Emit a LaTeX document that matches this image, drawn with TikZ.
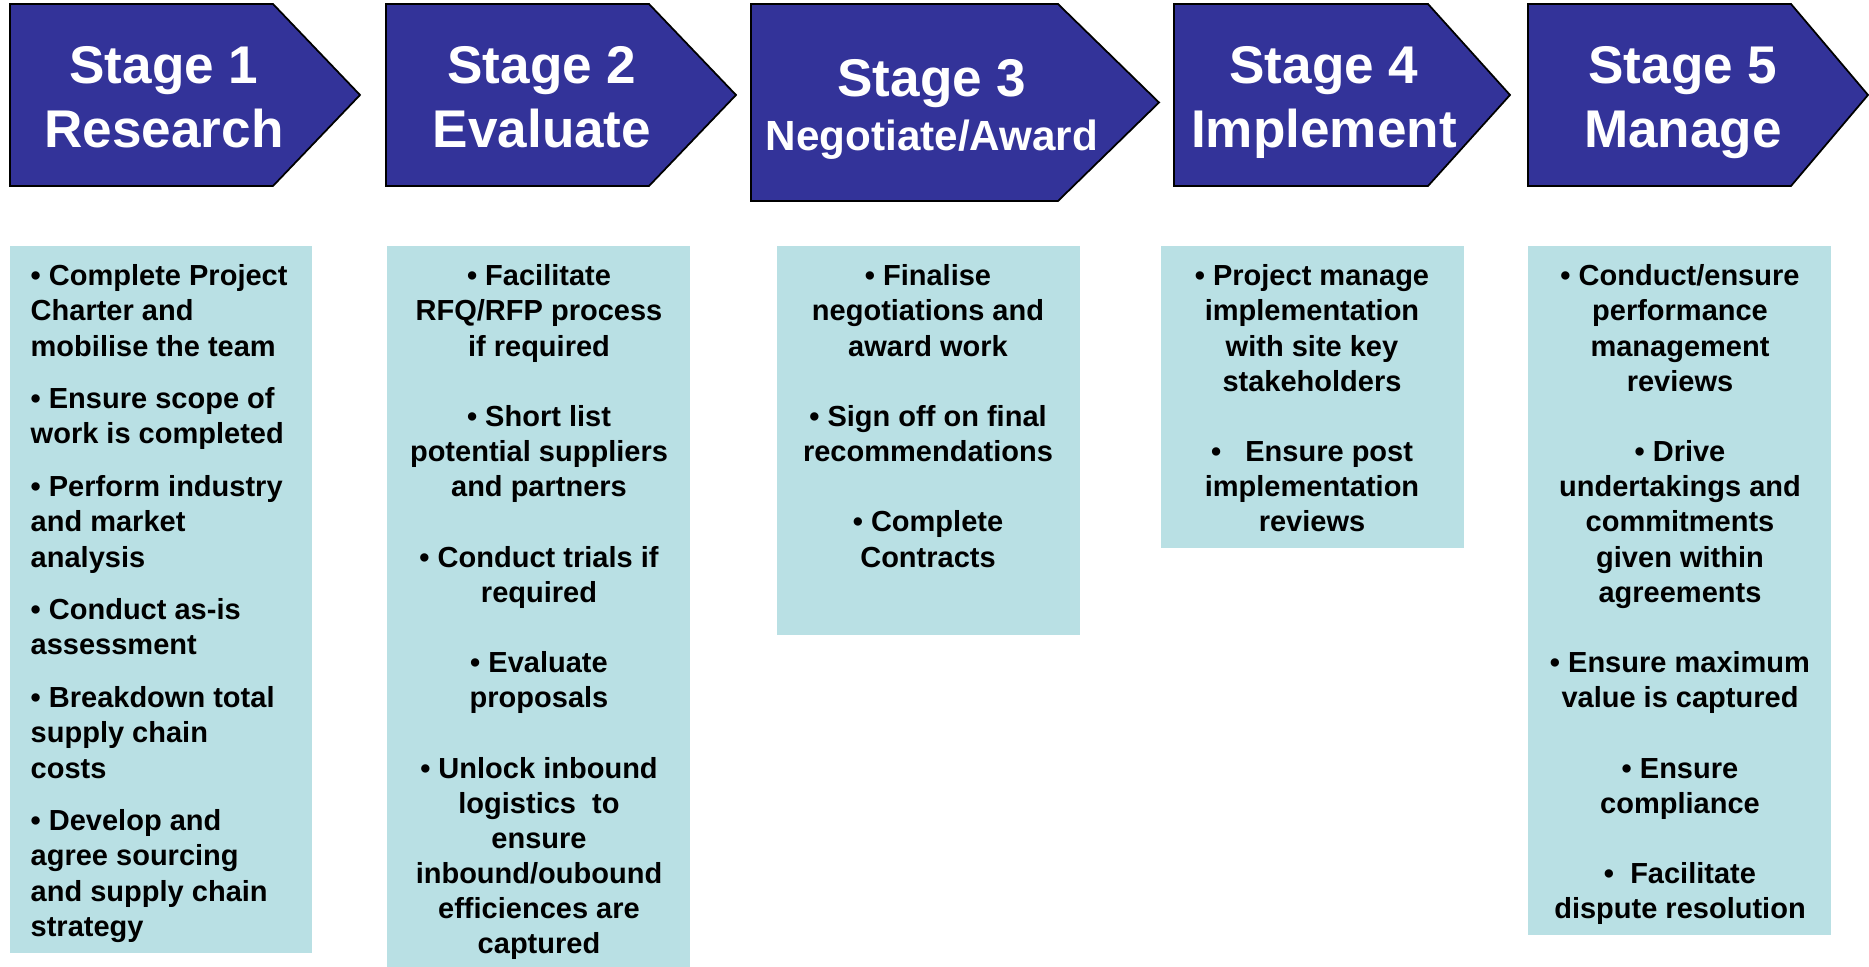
\documentclass[tikz,border=0pt]{standalone}
\usepackage{fontspec}
\setmainfont{Liberation Sans}

\begin{document}
\begin{tikzpicture}[x=0.01cm, y=-0.01cm,
    stagearrow/.style={fill=stageblue, draw=black, line width=0.5pt, line join=miter},
    stagetitle/.style={anchor=base, inner sep=0pt, text=white, font=\fontsize{15.1}{18}\selectfont\bfseries},
    stagesmall/.style={stagetitle, font=\fontsize{12}{14}\selectfont\bfseries},
    infobox/.style={fill=boxcyan},
    infotext/.style={anchor=north, inner sep=0pt, align=center, font=\fontsize{8.25}{10}\selectfont\bfseries}]
    % Colours
    \definecolor{stageblue}{RGB}{51,51,153}
    \definecolor{boxcyan}{RGB}{185,224,228}

    \useasboundingbox (0,0) rectangle (1869,967);

    % Stage 1
    \draw[stagearrow] (10,4) -- (273,4) -- (360,95) -- (273,186) -- (10,186) -- cycle;
    \node[stagetitle] (stage1) at (164,84) {Stage 1};
    \node[stagetitle] (name1) at (164,148) {Research};

    % Stage 2
    \draw[stagearrow] (386,4) -- (649,4) -- (736,95) -- (649,186) -- (386,186) -- cycle;
    \node[stagetitle] (stage2) at (542,84) {Stage 2};
    \node[stagetitle] (name2) at (542,148) {Evaluate};

    % Stage 3
    \draw[stagearrow] (751,4) -- (1058,4) -- (1159,102.5) -- (1058,201) -- (751,201) -- cycle;
    \node[stagetitle] (stage3) at (932,97) {Stage 3};
    \node[stagesmall] (name3) at (932,151) {Negotiate/Award};

    % Stage 4
    \draw[stagearrow] (1174,4) -- (1428,4) -- (1510,95) -- (1428,186) -- (1174,186) -- cycle;
    \node[stagetitle] (stage4) at (1324,84) {Stage 4};
    \node[stagetitle] (name4) at (1324,148) {Implement};

    % Stage 5
    \draw[stagearrow] (1528,4) -- (1791,4) -- (1868,95) -- (1791,186) -- (1528,186) -- cycle;
    \node[stagetitle] (stage5) at (1683,84) {Stage 5};
    \node[stagetitle] (name5) at (1683,148) {Manage};

    % Task boxes
    \fill[infobox] (10,246) rectangle (312,953);
    \fill[infobox] (387,246) rectangle (690,967);
    \fill[infobox] (777,246) rectangle (1080,635);
    \fill[infobox] (1161,246) rectangle (1464,548);
    \fill[infobox] (1528,246) rectangle (1831,935);

    % Research tasks
    \node[infotext, anchor=north west, align=left] (tasks1) at (30,264) {
        • Complete Project\\
        Charter and\\
        mobilise the team\\[5pt]
        • Ensure scope of\\
        work is completed\\[5pt]
        • Perform industry\\
        and market\\
        analysis\\[5pt]
        • Conduct as-is\\
        assessment\\[5pt]
        • Breakdown total\\
        supply chain\\
        costs\\[5pt]
        • Develop and\\
        agree sourcing\\
        and supply chain\\
        strategy
    };

    % Evaluate tasks
    \node[infotext] (tasks2) at (539,264) {
        • Facilitate\\
        RFQ/RFP process\\
        if required\\[10pt]
        • Short list\\
        potential suppliers\\
        and partners\\[10pt]
        • Conduct trials if\\
        required\\[10pt]
        • Evaluate\\
        proposals\\[10pt]
        • Unlock inbound\\
        logistics\ \ to\\
        ensure\\
        inbound/oubound\\
        efficiences are\\
        captured
    };

    % Negotiate/Award tasks
    \node[infotext] (tasks3) at (928,264) {
        • Finalise\\
        negotiations and\\
        award work\\[10pt]
        • Sign off on final\\
        recommendations\\[10pt]
        • Complete\\
        Contracts
    };

    % Implement tasks
    \node[infotext] (tasks4) at (1312,264) {
        • Project manage\\
        implementation\\
        with site key\\
        stakeholders\\[10pt]
        •\ \ \ Ensure post\\
        implementation\\
        reviews
    };

    % Manage tasks
    \node[infotext] (tasks5) at (1680,264) {
        • Conduct/ensure\\
        performance\\
        management\\
        reviews\\[10pt]
        • Drive\\
        undertakings and\\
        commitments\\
        given within\\
        agreements\\[10pt]
        • Ensure maximum\\
        value is captured\\[10pt]
        • Ensure\\
        compliance\\[10pt]
        •\ \ Facilitate\\
        dispute resolution
    };
\end{tikzpicture}
\end{document}
